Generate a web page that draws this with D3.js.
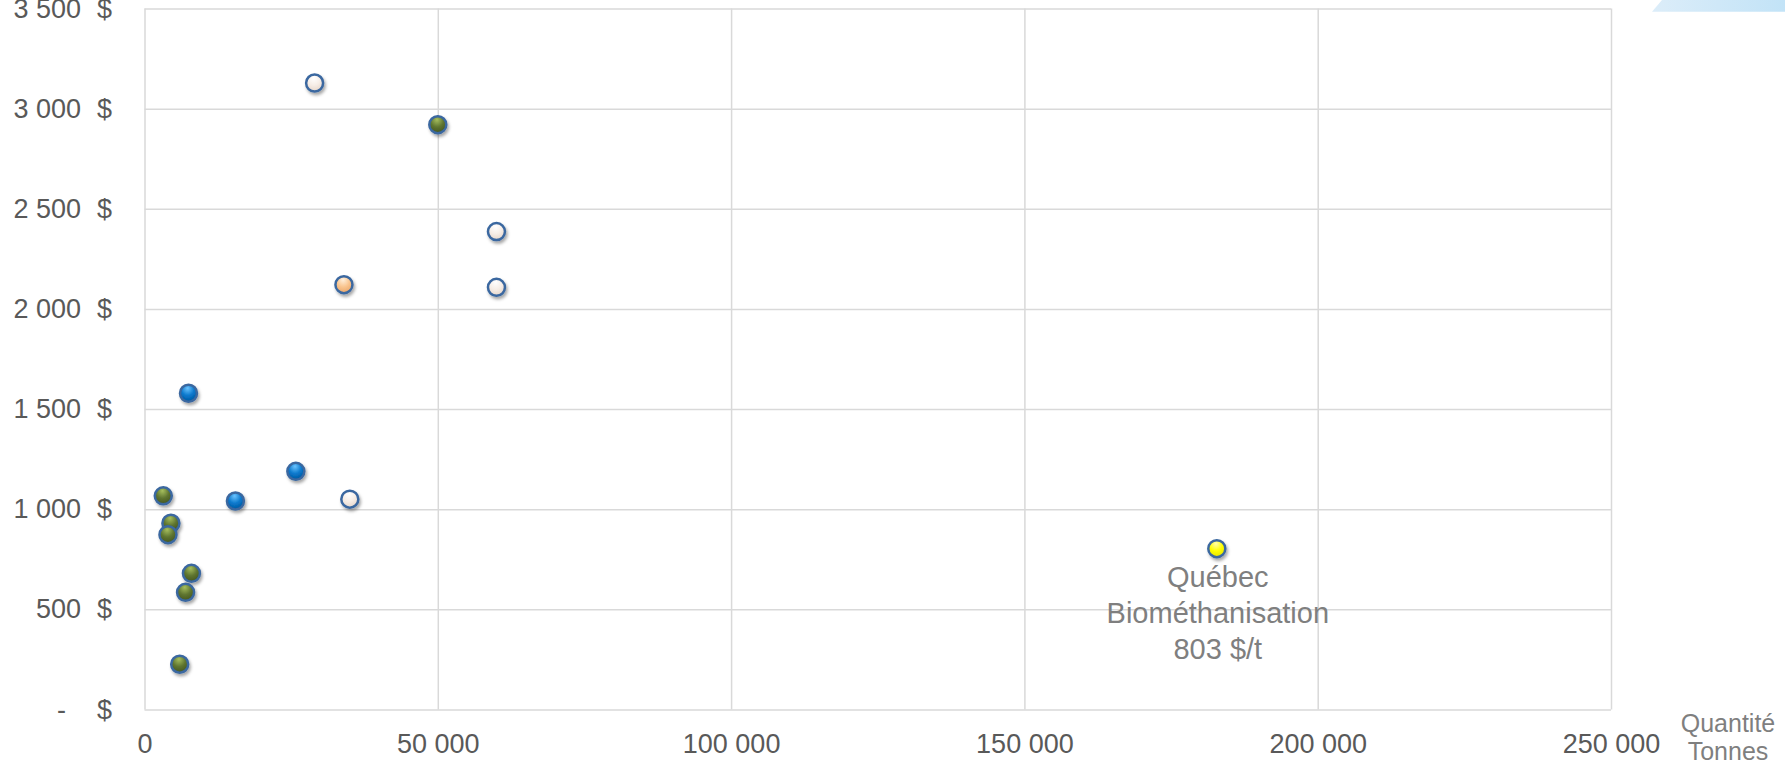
<!DOCTYPE html>
<html lang="fr">
<head>
<meta charset="utf-8">
<script src="https://cdn.jsdelivr.net/npm/d3@7"></script>
<style>
    html, body { margin: 0; padding: 0; background: #ffffff; }
    svg { display: block; font-family: "Liberation Sans", Arial, sans-serif; }
</style>
</head>
<body>
<div id="chart"></div>
<script>
// Data: [tonnes, cost $/t]
const seriesGreen = [[3200, 1067], [4500, 930], [4000, 873], [8000, 680], [7000, 585], [6000, 226], [50000, 2920]];
const seriesBlue = [[7500, 1579], [25800, 1189], [15500, 1041]];
const seriesCream = [[29000, 3128], [60000, 2386], [60000, 2108], [35000, 1050]];
const seriesPeach = [[34000, 2121]];
const seriesQuebec = [[182800, 803]];

const xTicks = [0, 50000, 100000, 150000, 200000, 250000];
const yTicks = [0, 500, 1000, 1500, 2000, 2500, 3000, 3500];
const quebecLabel = ["Québec", "Biométhanisation", "803 $/t"];
const xTitle = ["Quantité", "Tonnes"];

const series = [
    { id: "green", points: seriesGreen, stops: ["#a6bf5e", "#5f7530", "#45561f"] },
    { id: "blue", points: seriesBlue, stops: ["#6cc4ff", "#0a78cc", "#0058a0"] },
    { id: "cream", points: seriesCream, stops: ["#ffffff", "#f6ede6", "#e6d6ca"] },
    { id: "peach", points: seriesPeach, stops: ["#fff0dc", "#f9c48e", "#e9a66a"] },
    { id: "yellow", points: seriesQuebec, stops: ["#ffffb0", "#ffff00", "#e4e400"] }
];

const fullWidth = 1785;
const fullHeight = 764;
const margin = { top: 8.5, right: 174, bottom: 54.5, left: 144.5 };
const width = fullWidth - margin.left - margin.right;
const height = fullHeight - margin.top - margin.bottom;

const root = d3.select("#chart")
    .append("svg")
    .attr("width", fullWidth)
    .attr("height", fullHeight);

const defs = root.append("defs");

// glossy ball gradients
series.forEach(s => {
    const g = defs.append("radialGradient")
        .attr("id", "grad-" + s.id)
        .attr("cx", "45%").attr("cy", "30%").attr("r", "70%")
        .attr("fx", "45%").attr("fy", "20%");
    g.append("stop").attr("offset", "0%").attr("stop-color", s.stops[0]);
    g.append("stop").attr("offset", "55%").attr("stop-color", s.stops[1]);
    g.append("stop").attr("offset", "100%").attr("stop-color", s.stops[2]);
});

defs.append("filter")
    .attr("id", "shadow")
    .attr("x", "-50%").attr("y", "-50%").attr("width", "200%").attr("height", "200%")
    .append("feDropShadow")
    .attr("dx", 1.5).attr("dy", 2.5)
    .attr("stdDeviation", 1.6)
    .attr("flood-color", "#000")
    .attr("flood-opacity", 0.35);

// Corner decoration at top right
const deco = defs.append("linearGradient").attr("id", "deco");
deco.append("stop").attr("offset", "0%").attr("stop-color", "#dcedf9");
deco.append("stop").attr("offset", "100%").attr("stop-color", "#c2e3f7");
root.append("polygon")
    .attr("points", "1652,11.7 1662,0 1785,0 1785,11.7")
    .style("fill", "url(#deco)");

const svg = root.append("g")
    .attr("transform", `translate(${margin.left},${margin.top})`);

const x = d3.scaleLinear().domain([0, 250000]).range([0, width]);
const y = d3.scaleLinear().domain([0, 3500]).range([height, 0]);

const frNum = d3.formatLocale({ decimal: ",", thousands: " ", grouping: [3], currency: ["", " $"] }).format(",.0f");

// Axes + grid
const gx = svg.append("g")
    .attr("transform", `translate(0,${height})`)
    .call(d3.axisBottom(x).tickValues(xTicks).tickSize(-height).tickPadding(24).tickFormat(frNum));

const gy = svg.append("g")
    .call(d3.axisLeft(y).tickValues(yTicks).tickSize(-width).tickPadding(63.5)
        .tickFormat(d => d === 0 ? "-" : frNum(d)));

[gx, gy].forEach(g => {
    g.select(".domain").remove();
    g.selectAll(".tick line").attr("stroke", "#d9d9d9").attr("stroke-width", 1.5);
    g.selectAll("text")
        .style("font-size", "27px")
        .style("fill", "#595959");
});

gy.selectAll(".tick text")
    .filter(d => d === 0)
    .attr("x", -78.5);

gy.selectAll(".tick")
    .append("text")
    .attr("x", -32.5)
    .attr("dy", "0.32em")
    .attr("text-anchor", "end")
    .style("font-size", "27px")
    .style("fill", "#595959")
    .text("$");

// Points
const all = series.flatMap(s => s.points.map(p => ({ id: s.id, t: p[0], c: p[1] })));

svg.append("g")
    .selectAll("circle")
    .data(all)
    .join("circle")
    .attr("cx", d => x(d.t))
    .attr("cy", d => y(d.c))
    .attr("r", 8.5)
    .style("fill", d => `url(#grad-${d.id})`)
    .style("stroke", "#3a67a0")
    .style("stroke-width", 2.5)
    .style("filter", "url(#shadow)");

// Québec annotation
const q = seriesQuebec[0];
svg.append("text")
    .attr("text-anchor", "middle")
    .style("font-size", "29px")
    .style("fill", "#7f7f7f")
    .selectAll("tspan")
    .data(quebecLabel)
    .join("tspan")
    .attr("x", x(q[0]) + 1)
    .attr("y", (d, i) => y(q[1]) + 38.5 + i * 36)
    .text(d => d);

// Axis title
root.append("text")
    .attr("text-anchor", "middle")
    .style("font-size", "25px")
    .style("fill", "#7f7f7f")
    .selectAll("tspan")
    .data(xTitle)
    .join("tspan")
    .attr("x", 1728)
    .attr("y", (d, i) => 732 + i * 28)
    .text(d => d);
</script>
</body>
</html>
